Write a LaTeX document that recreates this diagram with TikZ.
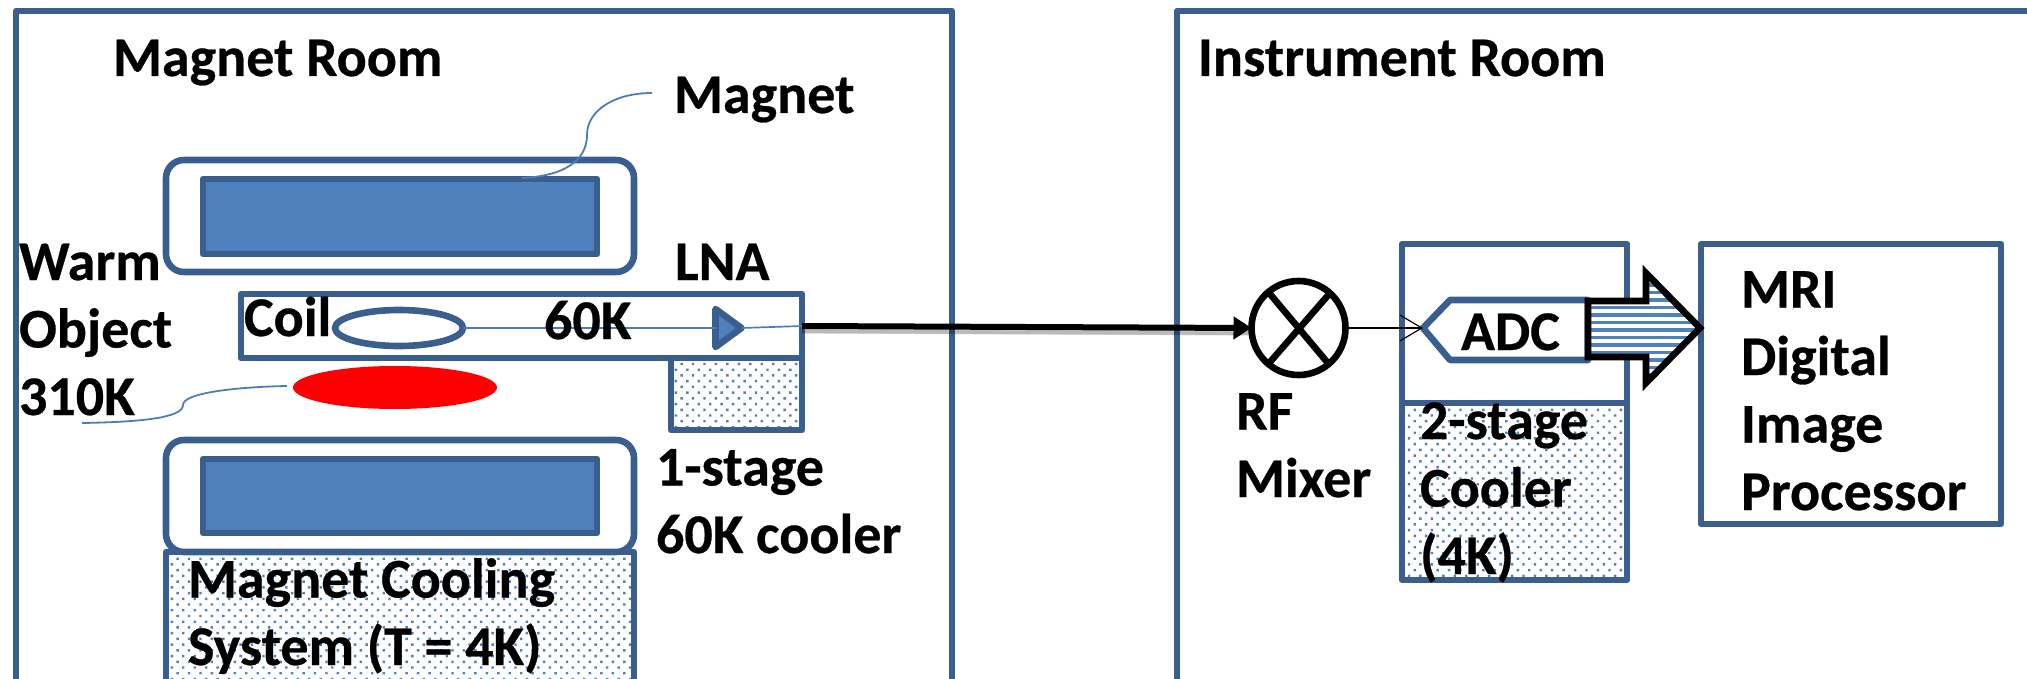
\documentclass[tikz,border=0pt]{standalone}
\usepackage{fontspec}
\setmainfont{Carlito}[BoldFeatures={FakeBold=0.5}]
\usetikzlibrary{arrows.meta,patterns.meta,shapes.geometric}
\definecolor{edgeblue}{HTML}{3A5F8F}
\definecolor{fillblue}{HTML}{4F81BD}
\definecolor{leadblue}{HTML}{4A7EBB}
\newcommand{\pu}{0.5pt}
\tikzset{
  x=0.5pt,y=-0.5pt,
  boxshape/.style={draw=edgeblue,line width=3.3pt,line join=round,rectangle,inner sep=0pt,outer sep=0pt},
  sized/.style 2 args={minimum width=#1*\pu,minimum height=#2*\pu},
  magnetbox/.style={boxshape,rounded corners=9pt},
  coreblock/.style={boxshape,fill=fillblue},
  dotted area/.style={boxshape,pattern={Dots[distance=4.05pt,radius=0.85pt,angle=45]},pattern color=fillblue},
  lbl/.style={anchor=base west,inner sep=0pt,outer sep=0pt,align=left,font=\fontsize{28}{33.75}\selectfont\bfseries},
  leader/.style={draw=leadblue,line width=0.9pt},
  wire/.style={draw=leadblue,line width=0.85pt},
}
\begin{document}
\begin{tikzpicture}
\clip (0,0) rectangle (2027,679);
% rooms
\node[boxshape,sized={936}{800}] (magnetroom) at (484,411) {};
\node[boxshape,sized={1000}{800}] (instrumentroom) at (1677,411) {};
% magnet
\node[magnetbox,sized={468}{112}] (magnettop) at (400,216) {};
\node[coreblock,sized={394}{75}] (coretop) at (400,216.5) {};
\node[magnetbox,sized={468}{112}] (magnetbottom) at (400,496) {};
\node[coreblock,sized={394}{74}] (corebottom) at (400,496) {};
\node[dotted area,sized={468}{300}] (cooling) at (400,702) {};
% cryostat
\node[dotted area,sized={131}{72}] (cooler) at (736.5,394) {};
\node[boxshape,sized={561}{64}] (coilbox) at (521.5,326) {};
\node[draw=edgeblue,line width=3.3pt,ellipse,inner sep=0pt,outer sep=0pt,sized={128}{36}] (coil) at (399,328) {};
\node[fill=red,ellipse,inner sep=0pt,outer sep=0pt,sized={204}{43}] (object) at (395,387.5) {};
\node[draw=edgeblue,fill=fillblue,line width=3.3pt,line join=round,isosceles triangle,isosceles triangle stretches,inner sep=0pt,outer sep=0pt,sized={38}{26},anchor=lower side] (lna) at (715.5,328) {};
\draw[wire] (coil.east) -- (lna.lower side);
\draw[wire] (lna.apex) -- (coilbox.east);
% leaders
\coordinate (magnetA) at (522,178);
\coordinate (magnetB) at (652,93);
\draw[leader] (magnetA) .. controls (565,176) and (587,160) .. (587,135) .. controls (587,110) and (615,93) .. (magnetB);
\coordinate (warmA) at (82,423);
\coordinate (warmB) at (287,386);
\draw[leader] (warmA) .. controls (140,422) and (183,418) .. (183,405) .. controls (183,393) and (235,387) .. (warmB);
% mixer
\node[draw=black,line width=3.3pt,circle,inner sep=0pt,outer sep=0pt,minimum size=94*\pu] (mixer) at (1298.5,328) {};
\draw[black,line width=3.3pt] (mixer.130) -- (mixer.-50);
\draw[black,line width=3.3pt] (mixer.-130) -- (mixer.48);
% shadow and signal line
\foreach \sh/\op/\wd in {-1.5pt/0.10/4pt,-2.2pt/0.10/3pt,-2.8pt/0.10/2pt}{
  \draw[black,opacity=\op,line width=\wd,transform canvas={yshift=\sh}] (coilbox.east) -- (mixer.west);
}
\draw[black,line width=3pt,-{Triangle[length=9pt,width=11pt]}] (coilbox.east) -- (mixer.west);
% 2-stage cooler
\node[boxshape,sized={225}{159}] (warmstage) at (1514.5,323.5) {};
\node[dotted area,sized={225}{177}] (coolstage) at (1514.5,491.5) {};
% ADC
\coordinate (adctip) at (1423,328);
\draw[edgeblue,line width=3.3pt,line join=round,fill=white] (adctip) -- (1450,300) -- (1588,300) -- (1588,360) -- (1450,360) -- cycle;
\draw[black,line width=0.6pt,-{Straight Barb[length=11pt,width=13pt,line width=0.6pt]}] (mixer.east) -- (adctip);
% processor
\node[boxshape,sized={300}{280}] (processor) at (1851,384) {};
% block arrow
\fill[white] (1588,301) -- (1646,301) -- (1646,273) -- (1700,328) -- (1646,383) -- (1646,357) -- (1588,357) -- cycle;
\begin{scope}
  \clip (1588,301) -- (1646,301) -- (1646,273) -- (1700,328) -- (1646,383) -- (1646,357) -- (1588,357) -- cycle;
  \foreach \k in {-8,...,8}{
    \fill[fillblue] (1580,330+7.5*\k-1.8) rectangle (1710,330+7.5*\k+1.8);
  }
\end{scope}
\draw[black,line width=3.3pt,miter limit=10] (1588,301) -- (1646,301) -- (1646,273) -- (1700,328) -- (1646,383) -- (1646,357) -- (1588,357) -- cycle;
% text
\node[lbl] (t1) at (113,76) {Magnet Room};
\node[lbl] (t2) at (1198,76) {Instrument Room};
\node[lbl] (t3) at (674,113) {Magnet};
\node[lbl] (t4) at (19,415) {Warm\\Object\\310K};
\node[lbl] (t5) at (244,336) {Coil};
\node[lbl] (t6) at (544,339) {60K};
\node[lbl] (t7) at (675,280) {LNA};
\node[lbl] (t8) at (656,553) {1-stage\\60K cooler};
\node[lbl] (t9) at (188,665) {Magnet Cooling\\System (T = 4K)};
\node[lbl] (t10) at (1236,497) {RF\\Mixer};
\node[lbl] (t11) at (1461,350) {ADC};
\node[lbl] (t12) at (1420,574) {2-stage\\Cooler\\(4K)};
\node[lbl] (t13) at (1741,510) {MRI\\Digital\\Image\\Processor};
\end{tikzpicture}
\end{document}
